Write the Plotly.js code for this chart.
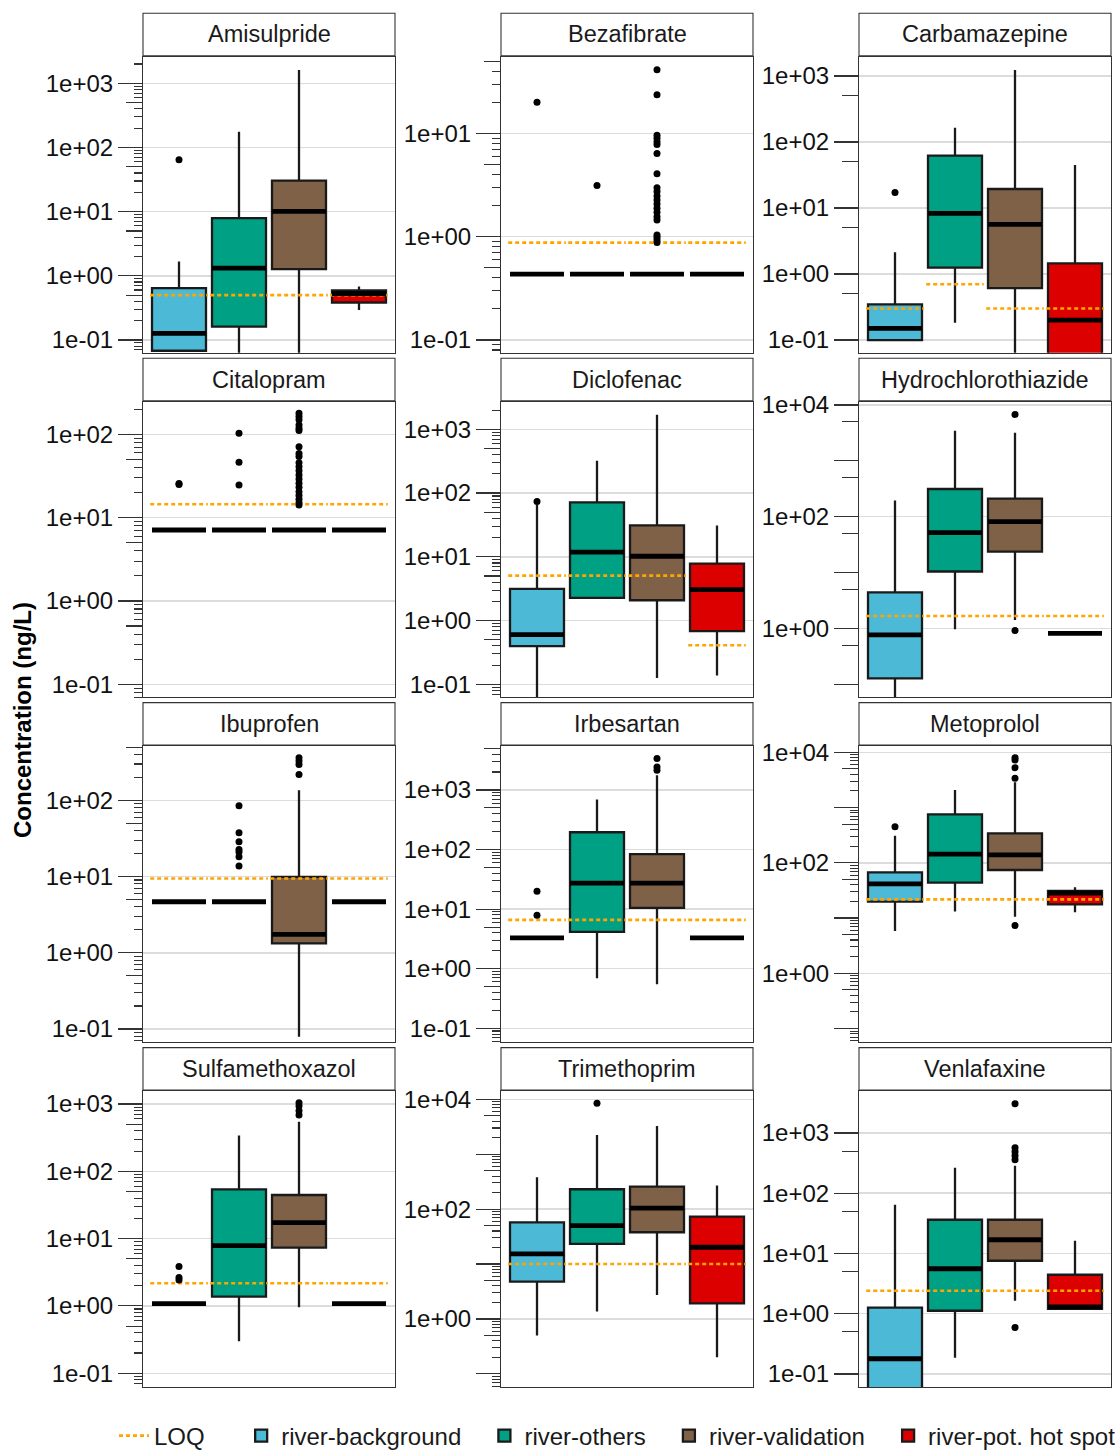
<!DOCTYPE html>
<html>
<head>
<meta charset="utf-8">
<script src="https://cdn.plot.ly/plotly-3.0.1.min.js"></script>
<style>
  html, body { margin: 0; padding: 0; background: #ffffff; }
  #chart { width: 1115px; height: 1452px; }
</style>
</head>
<body>
<div id="chart"></div>
<script>
// ---- data (ng/L) -------------------------------------------------------
const compounds = ['Amisulpride', 'Bezafibrate', 'Carbamazepine', 'Citalopram', 'Diclofenac',
  'Hydrochlorothiazide', 'Ibuprofen', 'Irbesartan', 'Metoprolol', 'Sulfamethoxazol',
  'Trimethoprim', 'Venlafaxine'];
const sites = ['river-background', 'river-others', 'river-validation', 'river-pot. hot spot'];

// box statistics: one row per compound, one value per site
const lowerFence = [
  [0.066, 0.02, 0.02, 0.293],
  [0.435, 0.435, 0.435, 0.435],
  [0.1, 0.183, 0.03, 0.01],
  [7.1, 7.1, 7.1, 7.1],
  [0.03, 2.26, 0.126, 0.137],
  [0.03, 0.96, 1.41, 0.81],
  [4.67, 4.67, 0.079, 4.67],
  [3.3, 0.69, 0.55, 3.3],
  [5.84, 13.1, 10.6, 12.7],
  [1.08, 0.30, 0.955, 1.08],
  [0.5, 1.36, 2.74, 0.2],
  [0.02, 0.186, 1.64, 1.21]
];
const q1 = [
  [0.068, 0.161, 1.27, 0.384],
  [0.435, 0.435, 0.435, 0.435],
  [0.1, 1.25, 0.61, 0.04],
  [7.1, 7.1, 7.1, 7.1],
  [0.396, 2.26, 2.08, 0.68],
  [0.127, 10.4, 23.6, 0.81],
  [4.67, 4.67, 1.33, 4.67],
  [3.3, 4.15, 10.5, 3.3],
  [19.8, 43.8, 74.1, 17.7],
  [1.08, 1.38, 7.35, 1.08],
  [4.79, 23.2, 37.9, 1.93],
  [0.05, 1.12, 7.58, 1.21]
];
const median = [
  [0.127, 1.32, 10.1, 0.53],
  [0.435, 0.435, 0.435, 0.435],
  [0.15, 8.3, 5.66, 0.2],
  [7.1, 7.1, 7.1, 7.1],
  [0.6, 11.8, 10.2, 3.06],
  [0.76, 51.7, 81.4, 0.81],
  [4.67, 4.67, 1.74, 4.67],
  [3.3, 27.4, 27.4, 3.3],
  [41.4, 144, 139, 28.4],
  [1.08, 7.87, 17.3, 1.08],
  [15.3, 50.1, 104, 20.2],
  [0.179, 5.58, 16.9, 1.3]
];
const q3 = [
  [0.645, 7.9, 30.4, 0.59],
  [0.435, 0.435, 0.435, 0.435],
  [0.347, 62, 19.4, 1.45],
  [7.1, 7.1, 7.1, 7.1],
  [3.13, 71.4, 31.1, 7.8],
  [4.41, 313, 210, 0.81],
  [4.67, 4.67, 9.93, 4.67],
  [3.3, 195, 83.6, 3.3],
  [67.3, 755, 342, 30.9],
  [1.08, 54, 44.5, 1.08],
  [57.6, 230, 257, 73],
  [1.26, 36.3, 36.3, 4.44]
];
const upperFence = [
  [1.67, 175, 1610, 0.68],
  [0.435, 0.435, 0.435, 0.435],
  [2.13, 165, 1230, 44.9],
  [7.1, 7.1, 7.1, 7.1],
  [65.7, 321, 1690, 31.1],
  [194, 3470, 3190, 0.81],
  [4.67, 4.67, 136, 4.67],
  [3.3, 693, 1770, 3.3],
  [310, 2080, 2870, 36],
  [1.08, 339, 547, 1.08],
  [380, 2240, 3270, 268],
  [64.4, 265, 286, 16.3]
];
const outliers = [
  [[64.6], [], [], []],
  [[20], [3.12], [41.3, 23.7, 9.6, 8.95, 8.3, 7.8, 6.4, 4.07, 2.98, 2.73, 2.48, 2.26, 2.07, 1.88, 1.72, 1.56, 1.45, 1.04, 0.99, 0.93, 0.88], []],
  [[17.1], [], [], []],
  [[24.9, 25.6], [103, 46.1, 24.7], [179, 163, 149, 129, 118, 111, 71, 59, 54, 45.7, 40.9, 36.6, 32.5, 29.1, 25.8, 23.1, 20.5, 18.4, 16.6, 15.1, 14.2], []],
  [[74], [], [], []],
  [[], [], [6800, 0.91], []],
  [[], [84.8, 37.5, 28.6, 22.7, 21, 18.2, 13.8], [361, 327, 295, 218], []],
  [[19.9, 7.9], [], [3360, 2440, 2140], []],
  [[451], [], [8000, 7260, 5270, 3380, 7.3], []],
  [[3.84, 2.64, 2.43], [], [1047, 933, 795, 687], []],
  [[], [8450], [], []],
  [[], [], [3060, 569, 489, 419, 360, 0.59], []]
];
// limit of quantification per site
const loq = [
  [0.5, 0.5, 0.5, 0.5],
  [0.875, 0.875, 0.875, 0.875],
  [0.3, 0.7, 0.3, 0.3],
  [14.5, 14.5, 14.5, 14.5],
  [5.07, 5.07, 5.07, 0.41],
  [1.66, 1.66, 1.66, 1.66],
  [9.44, 9.44, 9.44, 9.44],
  [6.59, 6.59, 6.59, 6.59],
  [21.8, 21.8, 21.8, 21.8],
  [2.17, 2.17, 2.17, 2.17],
  [10, 10, 10, 10],
  [2.41, 2.41, 2.41, 2.41]
];
// labelled decades per panel
const tickLabels = [
  ['1e-01', '1e+00', '1e+01', '1e+02', '1e+03'],
  ['1e-01', '1e+00', '1e+01'],
  ['1e-01', '1e+00', '1e+01', '1e+02', '1e+03'],
  ['1e-01', '1e+00', '1e+01', '1e+02'],
  ['1e-01', '1e+00', '1e+01', '1e+02', '1e+03'],
  ['1e+00', '1e+02', '1e+04'],
  ['1e-01', '1e+00', '1e+01', '1e+02'],
  ['1e-01', '1e+00', '1e+01', '1e+02', '1e+03'],
  ['1e+00', '1e+02', '1e+04'],
  ['1e-01', '1e+00', '1e+01', '1e+02', '1e+03'],
  ['1e+00', '1e+02', '1e+04'],
  ['1e-01', '1e+00', '1e+01', '1e+02', '1e+03']
];

// ---- axis settings -----------------------------------------------------
// visible y range of each panel, in log10 units
const yRanges = [
  [-1.198, 3.414], [-1.123, 1.742], [-1.192, 3.292],
  [-1.156, 2.391], [-1.204, 3.433], [-1.237, 4.06],
  [-1.167, 2.713], [-1.225, 3.738], [-1.238, 4.114],
  [-1.204, 3.193], [-1.239, 4.151], [-1.216, 3.697]
];
// panels that carry the 2..9 minor ticks in every decade
const fullMinor = [true, true, false, true, true, false, true, true, true, true, true, false];

// ---- styling / geometry ------------------------------------------------
const W = 1115, H = 1452;
const FONT = 'Liberation Sans, Arial, Helvetica, sans-serif';
const fills = ['#4cb9d7', '#00a084', '#7f6148', '#dd0000'];
const edge = '#1a1a1a';
const frame = '#333333';
const colPx = [[143, 395], [501, 753], [859, 1111]];
const rowPx = [[56.7, 352.7], [401.7, 697.3], [746, 1041.7], [1091, 1387]];
const stripH = 43;
const boxW = 0.9;
// extra room after legend entries (non-breaking / thin spaces)
const loqPad = '\u00a0\u00a0\u00a0\u00a0\u2009';
const sitePad = '\u00a0\u00a0\u2009';

const traces = [];
const layout = {
  width: W, height: H,
  margin: { l: 0, r: 0, t: 0, b: 0, pad: 0, autoexpand: false },
  paper_bgcolor: '#ffffff',
  plot_bgcolor: '#ffffff',
  font: { family: FONT, size: 24, color: edge },
  showlegend: true,
  boxmode: 'overlay',
  legend: {
    orientation: 'h',
    x: 114 / W, xanchor: 'left',
    y: 1 - 1436 / H, yanchor: 'middle',
    font: { family: FONT, size: 24, color: edge },
    bgcolor: 'rgba(0,0,0,0)',
    itemwidth: 30,
    traceorder: 'normal'
  },
  shapes: [],
  annotations: []
};

function decadeTicks(range) {
  const lo = range[0], hi = range[1];
  const decades = [], fives = [], minors = [];
  for (let e = Math.floor(lo); e <= Math.ceil(hi); e++) {
    if (e >= lo && e <= hi) decades.push(Math.pow(10, e));
    for (let m = 2; m <= 9; m++) {
      const v = m * Math.pow(10, e);
      const lv = Math.log10(v);
      if (lv < lo || lv > hi) continue;
      if (m === 5) fives.push(v); else minors.push(v);
    }
  }
  return { decades, fives, minors };
}

compounds.forEach((name, k) => {
  const r = Math.floor(k / 3), c = k % 3;
  const xs = k === 0 ? '' : String(k + 1);
  const xId = 'x' + xs, yId = 'y' + xs;
  const ovNum = k + 13;
  const ovId = 'y' + ovNum;
  const [px0, px1] = colPx[c];
  const [py0, py1] = rowPx[r];

  const labelled = tickLabels[k].map(Number);
  const t = decadeTicks(yRanges[k]);
  const unlabelled = t.decades.filter(d => !labelled.some(l => Math.abs(Math.log10(l) - Math.log10(d)) < 1e-6));

  layout['xaxis' + xs] = {
    domain: [px0 / W, px1 / W], anchor: yId,
    range: [0.4, 4.6], fixedrange: true,
    showline: true, mirror: true, linecolor: frame, linewidth: 1.1,
    ticks: '', showticklabels: false, showgrid: false, zeroline: false
  };
  const yAxis = {
    domain: [1 - py1 / H, 1 - py0 / H], anchor: xId,
    type: 'log', range: yRanges[k], fixedrange: true,
    tickmode: 'array', tickvals: labelled, ticktext: tickLabels[k],
    ticks: 'outside', ticklen: 24, tickwidth: 1.1, tickcolor: frame,
    tickfont: { family: FONT, size: 24, color: '#111111' },
    showline: true, mirror: true, linecolor: frame, linewidth: 1.1,
    showgrid: true, gridcolor: '#dcdcdc', gridwidth: 1.5, zeroline: false
  };
  if (fullMinor[k]) {
    yAxis.minor = {
      tickmode: 'array', tickvals: t.minors,
      ticks: 'outside', ticklen: 8, tickwidth: 1.1, tickcolor: frame, showgrid: false
    };
  }
  layout['yaxis' + xs] = yAxis;

  // second tick layer: 5x marks (medium) and unlabelled decades (long)
  const ovAxis = {
    overlaying: yId, anchor: xId, side: 'left',
    type: 'log', range: yRanges[k], fixedrange: true,
    tickmode: 'array', tickvals: t.fives,
    ticks: 'outside', ticklen: 16, tickwidth: 1.1, tickcolor: frame,
    showticklabels: false, showgrid: false, showline: false, zeroline: false
  };
  if (unlabelled.length) {
    ovAxis.minor = {
      tickmode: 'array', tickvals: unlabelled,
      ticks: 'outside', ticklen: 24, tickwidth: 1.1, tickcolor: frame, showgrid: false
    };
  }
  layout['yaxis' + ovNum] = ovAxis;
  traces.push({ type: 'scatter', x: [], y: [], xaxis: xId, yaxis: ovId,
    showlegend: false, hoverinfo: 'skip' });

  // LOQ segments, one per site
  sites.forEach((s, i) => {
    traces.push({
      type: 'scatter', mode: 'lines',
      x: [i + 1 - 0.48, i + 1 + 0.48], y: [loq[k][i], loq[k][i]],
      xaxis: xId, yaxis: yId,
      line: { color: '#ffa500', width: 2.6, dash: '4px,3px' },
      name: 'LOQ' + loqPad, showlegend: k === 0 && i === 0, hoverinfo: 'skip'
    });
  });

  // boxes
  sites.forEach((s, i) => {
    traces.push({
      type: 'box', name: i < sites.length - 1 ? s + sitePad : s,
      x: [i + 1],
      q1: [q1[k][i]], median: [median[k][i]], q3: [q3[k][i]],
      lowerfence: [lowerFence[k][i]], upperfence: [upperFence[k][i]],
      width: boxW, whiskerwidth: 0, boxpoints: false,
      fillcolor: fills[i], line: { color: edge, width: 2.3 },
      xaxis: xId, yaxis: yId,
      showlegend: k === 0, hoverinfo: 'skip'
    });
  });

  // thick median bars
  sites.forEach((s, i) => {
    traces.push({
      type: 'scatter', mode: 'lines',
      x: [i + 1 - boxW / 2, i + 1 + boxW / 2], y: [median[k][i], median[k][i]],
      xaxis: xId, yaxis: yId,
      line: { color: '#000000', width: 4.8 },
      showlegend: false, hoverinfo: 'skip'
    });
  });

  // outlying samples
  sites.forEach((s, i) => {
    if (!outliers[k][i].length) return;
    traces.push({
      type: 'scatter', mode: 'markers',
      x: outliers[k][i].map(() => i + 1), y: outliers[k][i],
      xaxis: xId, yaxis: yId,
      marker: { color: '#000000', size: 7 },
      showlegend: false, hoverinfo: 'skip'
    });
  });

  // facet strip
  const sTop = py0 - stripH - 0.4, sBot = py0 - 1;
  layout.shapes.push({
    type: 'rect', xref: 'paper', yref: 'paper',
    x0: px0 / W, x1: px1 / W, y0: 1 - sBot / H, y1: 1 - sTop / H,
    line: { color: frame, width: 1.1 }, fillcolor: '#ffffff', layer: 'above'
  });
  layout.annotations.push({
    xref: 'paper', yref: 'paper',
    x: (px0 + px1) / 2 / W, y: 1 - (sTop + sBot) / 2 / H,
    xanchor: 'center', yanchor: 'middle', showarrow: false,
    text: name, font: { family: FONT, size: 23.5, color: '#1a1a1a' }
  });
});

layout.annotations.push({
  xref: 'paper', yref: 'paper', x: 22 / W, y: 1 - 720 / H,
  xanchor: 'center', yanchor: 'middle', showarrow: false, textangle: -90,
  text: '<b>Concentration (ng/L)</b>', font: { family: FONT, size: 24, color: '#000000' }
});

Plotly.newPlot('chart', traces, layout, { staticPlot: true, displayModeBar: false });
</script>
</body>
</html>
